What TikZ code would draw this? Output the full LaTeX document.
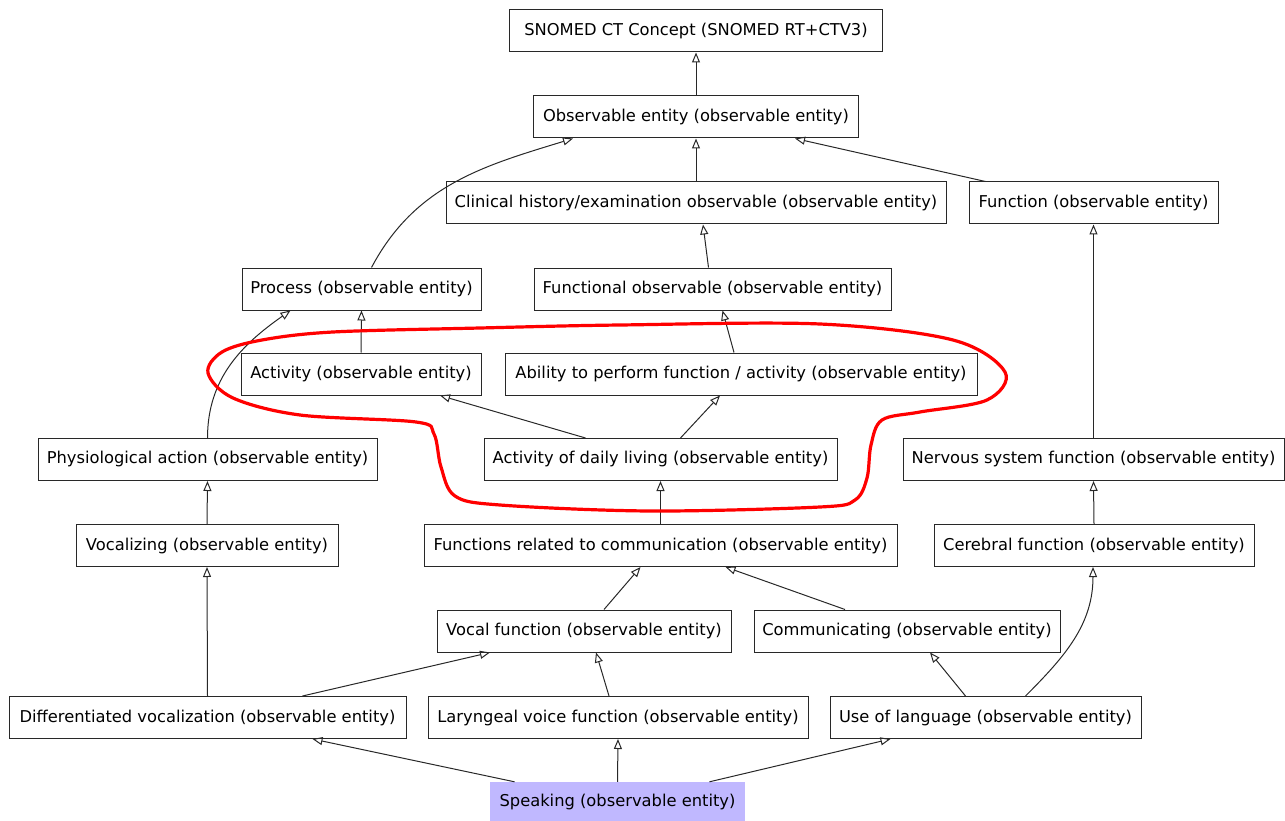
\documentclass[tikz,border=0pt]{standalone}
\usepackage{fontspec}
\setmainfont{DejaVu Sans}
\usetikzlibrary{arrows.meta,calc}
\definecolor{lav}{RGB}{192,184,255}
\definecolor{edge}{RGB}{40,40,40}
\tikzset{
  box/.style={draw=edge, line width=1pt, minimum height=42pt, inner xsep=0pt, font=\fontsize{16.3}{19}\selectfont, anchor=center},
  hl/.style={fill=lav, draw=none, minimum height=40pt, inner xsep=0pt, font=\fontsize{16.3}{19}\selectfont},
  arr/.style={draw=edge, line width=1pt, -{Triangle[open, length=10pt, width=8pt]}},
  ring/.style={draw=red, line width=3.2pt}
}
\begin{document}
\begin{tikzpicture}[x=1pt,y=1pt]
\useasboundingbox (0,0) rectangle (1285,-821);
\node[box, minimum width=373pt] (snomed) at (696,-31) {SNOMED CT Concept (SNOMED RT+CTV3)};
\node[box, minimum width=325pt] (obs) at (696,-117) {Observable entity (observable entity)};
\node[box, minimum width=500pt] (clin) at (696,-203) {Clinical history/examination observable (observable entity)};
\node[box, minimum width=249pt] (func) at (1093.5,-203) {Function (observable entity)};
\node[box, minimum width=239pt] (proc) at (361.5,-289) {Process (observable entity)};
\node[box, minimum width=357pt] (fobs) at (712.5,-289) {Functional observable (observable entity)};
\node[box, minimum width=240pt] (act) at (361,-374) {Activity (observable entity)};
\node[box, minimum width=472pt] (abil) at (741,-374) {Ability to perform function / activity (observable entity)};
\node[box, minimum width=339pt] (phys) at (207.5,-459.5) {Physiological action (observable entity)};
\node[box, minimum width=353pt] (adl) at (660.5,-459.5) {Activity of daily living (observable entity)};
\node[box, minimum width=381pt] (nerv) at (1093.5,-459.5) {Nervous system function (observable entity)};
\node[box, minimum width=262pt] (voc) at (207,-545.5) {Vocalizing (observable entity)};
\node[box, minimum width=473pt] (frc) at (660.5,-545.5) {Functions related to communication (observable entity)};
\node[box, minimum width=320pt] (cere) at (1094,-545.5) {Cerebral function (observable entity)};
\node[box, minimum width=294pt] (vocf) at (584,-631) {Vocal function (observable entity)};
\node[box, minimum width=306pt] (comm) at (907,-631) {Communicating (observable entity)};
\node[box, minimum width=397pt] (diff) at (207.5,-717.5) {Differentiated vocalization (observable entity)};
\node[box, minimum width=380pt] (lary) at (618,-717.5) {Laryngeal voice function (observable entity)};
\node[box, minimum width=311pt] (use) at (985.5,-717.5) {Use of language (observable entity)};
\node[hl, minimum width=255pt] (speak) at (617.5,-802) {Speaking (observable entity)};

\draw[arr] (obs.north) -- (snomed.south);
\draw[arr] (clin.north) -- (obs.south);
\draw[arr] ([xshift=-108pt]func.north) -- ([xshift=99pt]obs.south);
\draw[arr] ([xshift=10pt]proc.north) to[out=62,in=197] ([xshift=-123pt]obs.south);
\draw[arr] ([xshift=-4pt]fobs.north) -- ([xshift=7pt]clin.south);
\draw[arr] (act.north) -- (proc.south);
\draw[arr] ([xshift=-7pt]abil.north) -- ([xshift=10pt]fobs.south);
\draw[arr] (phys.north) to[out=90,in=215] ([xshift=-71pt]proc.south);
\draw[arr] ([xshift=-75pt]adl.north) -- ([xshift=79pt]act.south);
\draw[arr] ([xshift=20pt]adl.north) -- ([xshift=-21pt]abil.south);
\draw[arr] (nerv.north) -- (func.south);
\draw[arr] (voc.north) -- (phys.south);
\draw[arr] (frc.north) -- (adl.south);
\draw[arr] (cere.north) -- (nerv.south);
\draw[arr] ([xshift=20pt]vocf.north) -- ([xshift=-20pt]frc.south);
\draw[arr] ([xshift=-62pt]comm.north) -- ([xshift=65pt]frc.south);
\draw[arr] (diff.north) -- (voc.south);
\draw[arr] ([xshift=95pt]diff.north) -- ([xshift=-94pt]vocf.south);
\draw[arr] ([xshift=-9pt]lary.north) -- ([xshift=12pt]vocf.south);
\draw[arr] ([xshift=-20pt]use.north) -- ([xshift=23pt]comm.south);
\draw[arr] ([xshift=40pt]use.north) to[out=45,in=-90] ([xshift=-1pt]cere.south);
\draw[arr] ([xshift=-103pt]speak.north) -- ([xshift=105pt]diff.south);
\draw[arr] (speak.north) -- (lary.south);
\draw[arr] ([xshift=92pt]speak.north) -- ([xshift=-95pt]use.south);

\draw[ring] plot[smooth cycle, tension=0.55] coordinates {
 (620,-325) (820,-324) (953,-340) (1005,-372) (987,-400) (920,-412) (882,-420)
 (871,-445) (867,-478) (855,-500) (820,-507) (650,-511) (500,-505) (455,-496)
 (441,-467) (434,-434) (416,-422) (300,-415) (233,-398) (208,-373) (222,-352)
 (262,-340) (333,-332) (480,-328)};
\end{tikzpicture}
\end{document}
